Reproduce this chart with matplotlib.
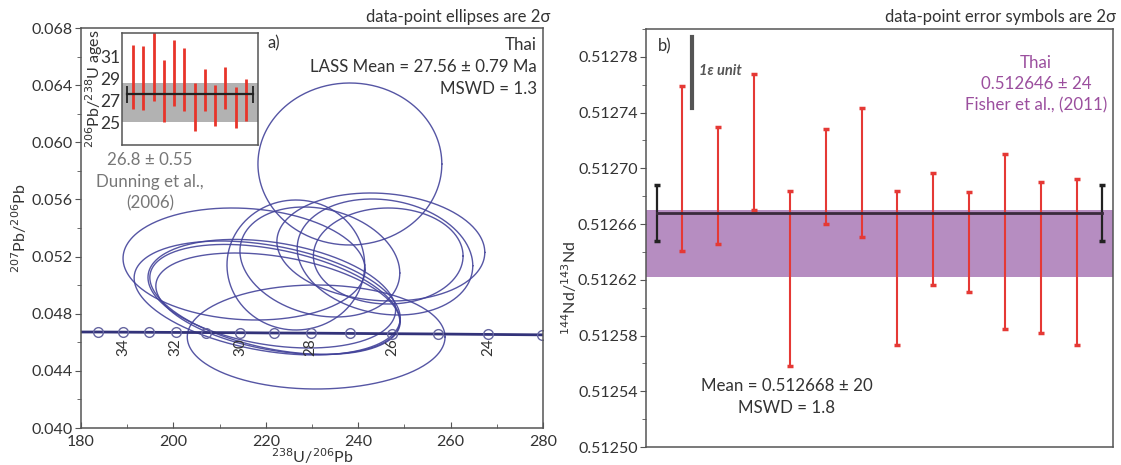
import numpy as np
import matplotlib
matplotlib.use("Agg")
import matplotlib.pyplot as plt

plt.rcParams.update({"font.family": ["Lato", "DejaVu Sans"], "font.size": 11.5,
                     "axes.edgecolor": "#555555", "axes.linewidth": 1.1,
                     "xtick.color": "#555555", "ytick.color": "#555555",
                     "xtick.labelcolor": "#333333", "ytick.labelcolor": "#333333"})

# ---------------- panel a: Tera-Wasserburg ellipses (2 sigma) ----------------
ell_x   = [238.2, 215.3, 220.3, 221.3, 222.0, 222.6, 230.9, 226.5, 244.9, 245.8, 246.5, 231.7]
ell_rx  = [19.9, 26.2, 28.8, 26.8, 27.1, 26.4, 27.9, 14.9, 22.5, 19.0, 16.2, 17.3]
ell_y   = [0.05848, 0.05148, 0.04910, 0.04940, 0.04900, 0.04870, 0.04637, 0.05141,
           0.05267, 0.05197, 0.05204, 0.05162]
ell_ry  = [0.00567, 0.00392, 0.00399, 0.00380, 0.00385, 0.00355, 0.00364, 0.00455,
           0.00378, 0.00406, 0.00336, 0.00385]
ell_rho = [0.0, -0.1, -0.35, -0.3, -0.4, -0.35, 0.0, 0.0, -0.1, -0.15, 0.0, -0.2]

# concordia markers (Ma) and their positions
conc_age = [35, 34, 33, 32, 31, 30, 29, 28, 27, 26, 25, 24, 23]
conc_x = [183.7, 189.1, 194.7, 200.5, 207.1, 214.4, 221.8, 229.7, 238.2, 247.4, 257.3, 268.1, 279.8]
conc_y = [0.04672, 0.04671, 0.04670, 0.04669, 0.04668, 0.04667, 0.04665, 0.04664,
          0.04662, 0.04660, 0.04658, 0.04655, 0.04652]
conc_lab = [34, 32, 30, 28, 26, 24]

# inset: 206Pb/238U ages
ins_lo = [26.25, 26.2, 27.0, 25.1, 26.55, 26.05, 24.26, 26.05, 24.7, 26.28, 24.55, 25.15]
ins_hi = [32.0, 31.9, 33.2, 30.67, 32.46, 31.78, 28.58, 29.87, 28.38, 29.99, 28.22, 28.94]
ins_mean = 27.56
ins_band = (25.1, 28.6)

# ---------------- panel b: 144Nd/143Nd ----------------
nd_lo = [0.512641, 0.512646, 0.512670, 0.512558, 0.512660, 0.512651,
         0.512573, 0.512616, 0.512611, 0.512585, 0.512582, 0.512573]
nd_hi = [0.512759, 0.512730, 0.512768, 0.512684, 0.512728, 0.512743,
         0.512684, 0.512697, 0.512683, 0.512710, 0.512690, 0.512692]
nd_mean, nd_err = 0.512668, 0.000020
fisher_lo, fisher_hi = 0.512622, 0.512670

W, H = 1121, 465
fig = plt.figure(figsize=(W / 100, H / 100), dpi=100)
ax1 = fig.add_axes([81 / W, 1 - 428 / H, 462 / W, 400 / H])
ax2 = fig.add_axes([646 / W, 1 - 447 / H, 467 / W, 418 / H])
axi = fig.add_axes([122 / W, 1 - 145 / H, 136 / W, 112 / H])

ecol = "#43439a"
t = np.linspace(0, 2 * np.pi, 300)
for cx, rx, cy, ry, r in zip(ell_x, ell_rx, ell_y, ell_ry, ell_rho):
    u, v = np.cos(t), np.sin(t)
    ax1.plot(cx + rx * u, cy + ry * (r * u + np.sqrt(1 - r * r) * v), color=ecol, lw=1.0, alpha=.9)

ax1.plot([180] + conc_x[:-1] + [280], [conc_y[0]] + conc_y[:-1] + [conc_y[-1]], color="#33337a", lw=2.0)
ax1.plot(conc_x, conc_y, "o", ms=7, mfc="none", mec="#6666a0", mew=1.0)
for a, x in zip(conc_age, conc_x):
    if a in conc_lab:
        ax1.text(x, 0.04565, str(a), rotation=90, ha="center", va="center", fontsize=11, color="#333333")

ax1.set_xlim(180, 280); ax1.set_ylim(0.040, 0.068)
ax1.set_xticks(np.arange(180, 281, 20)); ax1.set_xticks(np.arange(190, 280, 20), minor=True)
ax1.set_yticks(np.arange(0.040, 0.0681, 0.004)); ax1.set_yticks(np.arange(0.042, 0.068, 0.004), minor=True)
ax1.set_yticklabels([f"{v:.3f}" for v in np.arange(0.040, 0.0681, 0.004)])
ax1.tick_params(axis="x", direction="in", length=4, pad=5)
ax1.tick_params(axis="x", which="minor", direction="in", length=3)
ax1.tick_params(axis="y", direction="out", length=4, pad=2)
ax1.tick_params(axis="y", which="minor", direction="out", length=3)
ax1.set_xlabel("$^{238}$U/$^{206}$Pb", labelpad=-2, color="#333333")
ax1.set_ylabel("$^{207}$Pb/$^{206}$Pb", labelpad=2, color="#333333")
ax1.text(0.404, 0.962, "a)", transform=ax1.transAxes, ha="left", va="center", color="#333333", fontsize=12)
ax1.text(0.987, 0.978, "Thai\nLASS Mean = 27.56 ± 0.79 Ma\nMSWD = 1.3", transform=ax1.transAxes,
         ha="right", va="top", color="#333333", fontsize=12.2, linespacing=1.45)
ax1.text(0.149, 0.69, "26.8 ± 0.55\nDunning et al.,\n(2006)", transform=ax1.transAxes,
         ha="center", va="top", color="#777777", fontsize=12.2, linespacing=1.45)
fig.text(550 / W, 1 - 17 / H, "data-point ellipses are 2σ", ha="right", va="center",
         color="#333333", fontsize=12)

# inset
ix = np.arange(1, len(ins_lo) + 1)
axi.vlines(ix, ins_lo, ins_hi, color="#e8342a", lw=2.0)
axi.axhspan(*ins_band, color="#000000", alpha=0.3, lw=0)
axi.plot([0.4, 12.7], [ins_mean, ins_mean], color="#222222", lw=1.6)
axi.vlines([0.4, 12.7], ins_mean - 0.8, ins_mean + 0.8, color="#222222", lw=1.3)
axi.set_xlim(-0.1, 13.2); axi.set_ylim(23, 33.1)
axi.set_xticks([]); axi.set_yticks([25, 27, 29, 31])
axi.tick_params(axis="y", length=0, pad=1, labelsize=12.5)
axi.set_ylabel("$^{206}$Pb/$^{238}$U ages", fontsize=11.5, labelpad=-3, color="#333333")

# ---------------- panel b ----------------
nx = np.arange(1, len(nd_lo) + 1)
rc = "#e53935"
ax2.vlines(nx, nd_lo, nd_hi, color=rc, lw=1.5)
ax2.plot(nx, nd_lo, "_", color=rc, ms=5, mew=2.5)
ax2.plot(nx, nd_hi, "_", color=rc, ms=5, mew=2.5)
for bx in (0.3, 12.7):
    ax2.vlines(bx, nd_mean - nd_err, nd_mean + nd_err, color="#222222", lw=1.6)
    ax2.plot([bx, bx], [nd_mean - nd_err, nd_mean + nd_err], "_", color="#222222", ms=5, mew=2.5)
ax2.plot([0.3, 12.7], [nd_mean, nd_mean], color="#3a2a3c", lw=2.0)
ax2.axhspan(fisher_lo, fisher_hi, color="#7b2f8e", alpha=0.55, lw=0)
ax2.plot([1.28, 1.28], [0.512743, 0.512794], color="#555555", lw=3)
ax2.text(1.48, 0.51277, "1ε unit", fontsize=10.5, fontweight="bold", fontstyle="italic",
         color="#555555", ha="left", va="center")
ax2.text(0.025, 0.958, "b)", transform=ax2.transAxes, ha="left", va="center", color="#333333", fontsize=12)
ax2.text(0.835, 0.868, "Thai\n0.512646 ± 24\nFisher et al., (2011)", transform=ax2.transAxes,
         ha="center", va="center", color="#9b4f9e", fontsize=12.2, linespacing=1.4)
ax2.text(0.302, 0.12, "Mean = 0.512668 ± 20\nMSWD = 1.8", transform=ax2.transAxes,
         ha="center", va="center", color="#333333", fontsize=12.2, linespacing=1.45)
ax2.set_xlim(0, 13); ax2.set_ylim(0.51250, 0.51280)
ax2.set_xticks([])
yt = np.arange(0.51250, 0.512781, 0.00004)
ax2.set_yticks(yt); ax2.set_yticklabels([f"{v:.5f}" for v in yt])
ax2.set_yticks(np.arange(0.51252, 0.51280, 0.00004), minor=True)
ax2.tick_params(axis="y", direction="out", length=4, pad=2)
ax2.tick_params(axis="y", which="minor", direction="out", length=3)
fig.text(569 / W, 1 - 288 / H, "$^{144}$Nd/$^{143}$Nd", rotation=90, ha="center", va="center",
         color="#333333")
fig.text(1116 / W, 1 - 17 / H, "data-point error symbols are 2σ", ha="right", va="center",
         color="#333333", fontsize=12)

fig.savefig("out.png", dpi=100)
